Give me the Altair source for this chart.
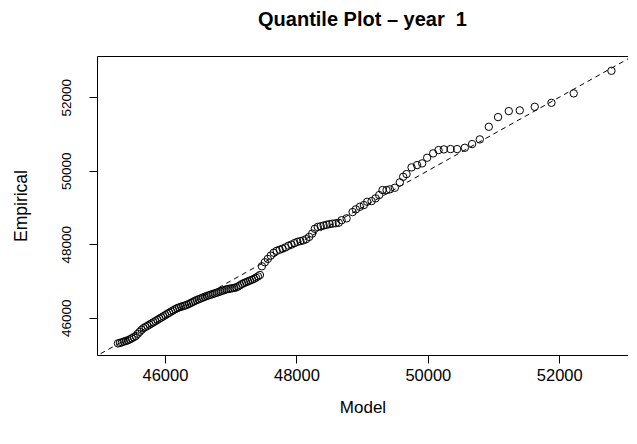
import altair as alt
import pandas as pd

# Model (theoretical) quantiles and empirical quantiles
model = [
    45285, 45315, 45345, 45375, 45405, 45435, 45465, 45495, 45525, 45555,
    45585, 45615, 45645, 45675, 45705, 45735, 45765, 45795, 45825, 45855,
    45885, 45915, 45945, 45975, 46005, 46035, 46065, 46095, 46125, 46155,
    46185, 46215, 46245, 46275, 46305, 46335, 46365, 46395, 46425, 46455,
    46485, 46515, 46545, 46575, 46605, 46635, 46665, 46695, 46725, 46755,
    46785, 46815, 46845, 46875, 46905, 46935, 46965, 46995, 47025, 47055,
    47085, 47115, 47145, 47175, 47205, 47235, 47265, 47295, 47325, 47355,
    47385, 47415, 47445,
    47475, 47520, 47565, 47610, 47655, 47700, 47745, 47790, 47835, 47880,
    47925, 47970, 48015, 48060, 48105, 48150, 48195, 48240, 48280, 48325,
    48370, 48415, 48460, 48505, 48550, 48600, 48645,
    48688, 48764, 48855, 48905, 48966, 49027, 49077, 49144, 49205, 49260,
    49311, 49372, 49422, 49498, 49574, 49625, 49676, 49752, 49837, 49914,
    49990, 50081, 50163, 50244, 50346, 50446, 50563, 50674, 50791,
    50928, 51069, 51232, 51399, 51627, 51881, 52220, 52794,
]
empirical = [
    45300, 45315, 45330, 45350, 45368, 45385, 45410, 45440, 45470, 45500,
    45560, 45615, 45670, 45718, 45750, 45780, 45812, 45845, 45875, 45908,
    45940, 45975, 46005, 46038, 46070, 46104, 46136, 46168, 46200, 46232,
    46260, 46280, 46298, 46315, 46332, 46350, 46375, 46402, 46430, 46456,
    46482, 46503, 46525, 46547, 46569, 46590, 46608, 46626, 46644, 46662,
    46680, 46698, 46716, 46735, 46753, 46772, 46782, 46792, 46803, 46813,
    46825, 46853, 46886, 46920, 46946, 46968, 46990, 47012, 47034, 47058,
    47090, 47125, 47162,
    47400, 47510, 47600, 47690, 47770, 47820, 47850, 47880, 47915, 47960,
    47990, 48030, 48065, 48085, 48105, 48140, 48200, 48290, 48420, 48470,
    48490, 48510, 48530, 48548, 48560, 48572, 48585,
    48654, 48705, 48876, 48950, 49020, 49067, 49156, 49175, 49249, 49339,
    49475, 49475, 49494, 49537, 49684, 49837, 49910, 50092, 50155, 50201,
    50354, 50473, 50563, 50582, 50590, 50590, 50626, 50727, 50854,
    51197, 51461, 51624, 51643, 51741, 51850, 52106, 52721,
]
# reference line y = x
ref_line = [44900, 53200]

tick_values = [46000, 48000, 50000, 52000]
x_domain = [44966, 53046]
y_domain = [44985, 53124]

pts = pd.DataFrame({"Model": model, "Empirical": empirical})
line_df = pd.DataFrame({"Model": ref_line, "Empirical": ref_line})

FONT = "Liberation Sans"

xenc = alt.X(
    "Model:Q",
    scale=alt.Scale(domain=x_domain, nice=False, zero=False),
    axis=alt.Axis(
        values=tick_values, format="d", title="Model", grid=False, domain=False,
        tickColor="black", tickSize=8, tickWidth=1,
        labelFont=FONT, labelFontSize=16.5, labelColor="black", labelPadding=4,
        titleFont=FONT, titleFontSize=17, titleFontWeight="normal",
        titleColor="black", titlePadding=16,
    ),
)
yenc = alt.Y(
    "Empirical:Q",
    scale=alt.Scale(domain=y_domain, nice=False, zero=False),
    axis=alt.Axis(
        values=tick_values, format="d", title="Empirical", grid=False, domain=False,
        tickColor="black", tickSize=8, tickWidth=1,
        labelFont=FONT, labelFontSize=13.5, labelColor="black", labelPadding=16,
        labelAngle=270, labelAlign="center", labelBaseline="bottom",
        titleFont=FONT, titleFontSize=17.5, titleFontWeight="normal",
        titleColor="black", titlePadding=29,
    ),
)

points = alt.Chart(pts).mark_point(
    shape="circle", filled=False, color="black", size=55, strokeWidth=1, opacity=1
).encode(x=xenc, y=yenc)

line = alt.Chart(line_df).mark_line(
    color="black", strokeWidth=1, strokeDash=[5, 4], clip=True
).encode(x=xenc, y=yenc)

chart = (
    alt.layer(line, points)
    .properties(
        width=531,
        height=299,
        title=alt.TitleParams(
            "Quantile Plot \u2013 year\u00a0 1",
            font=FONT, fontSize=20, fontWeight="bold", color="black",
            anchor="middle", frame="group", baseline="alphabetic", offset=10,
        ),
        autosize=alt.AutoSizeParams(type="none"),
        padding={"left": 89, "top": 48, "right": 0, "bottom": 70},
        background="white",
    )
    .configure_view(stroke="black", strokeWidth=1)
)

chart.save("out.html", embed_options={"renderer": "svg", "actions": False})
